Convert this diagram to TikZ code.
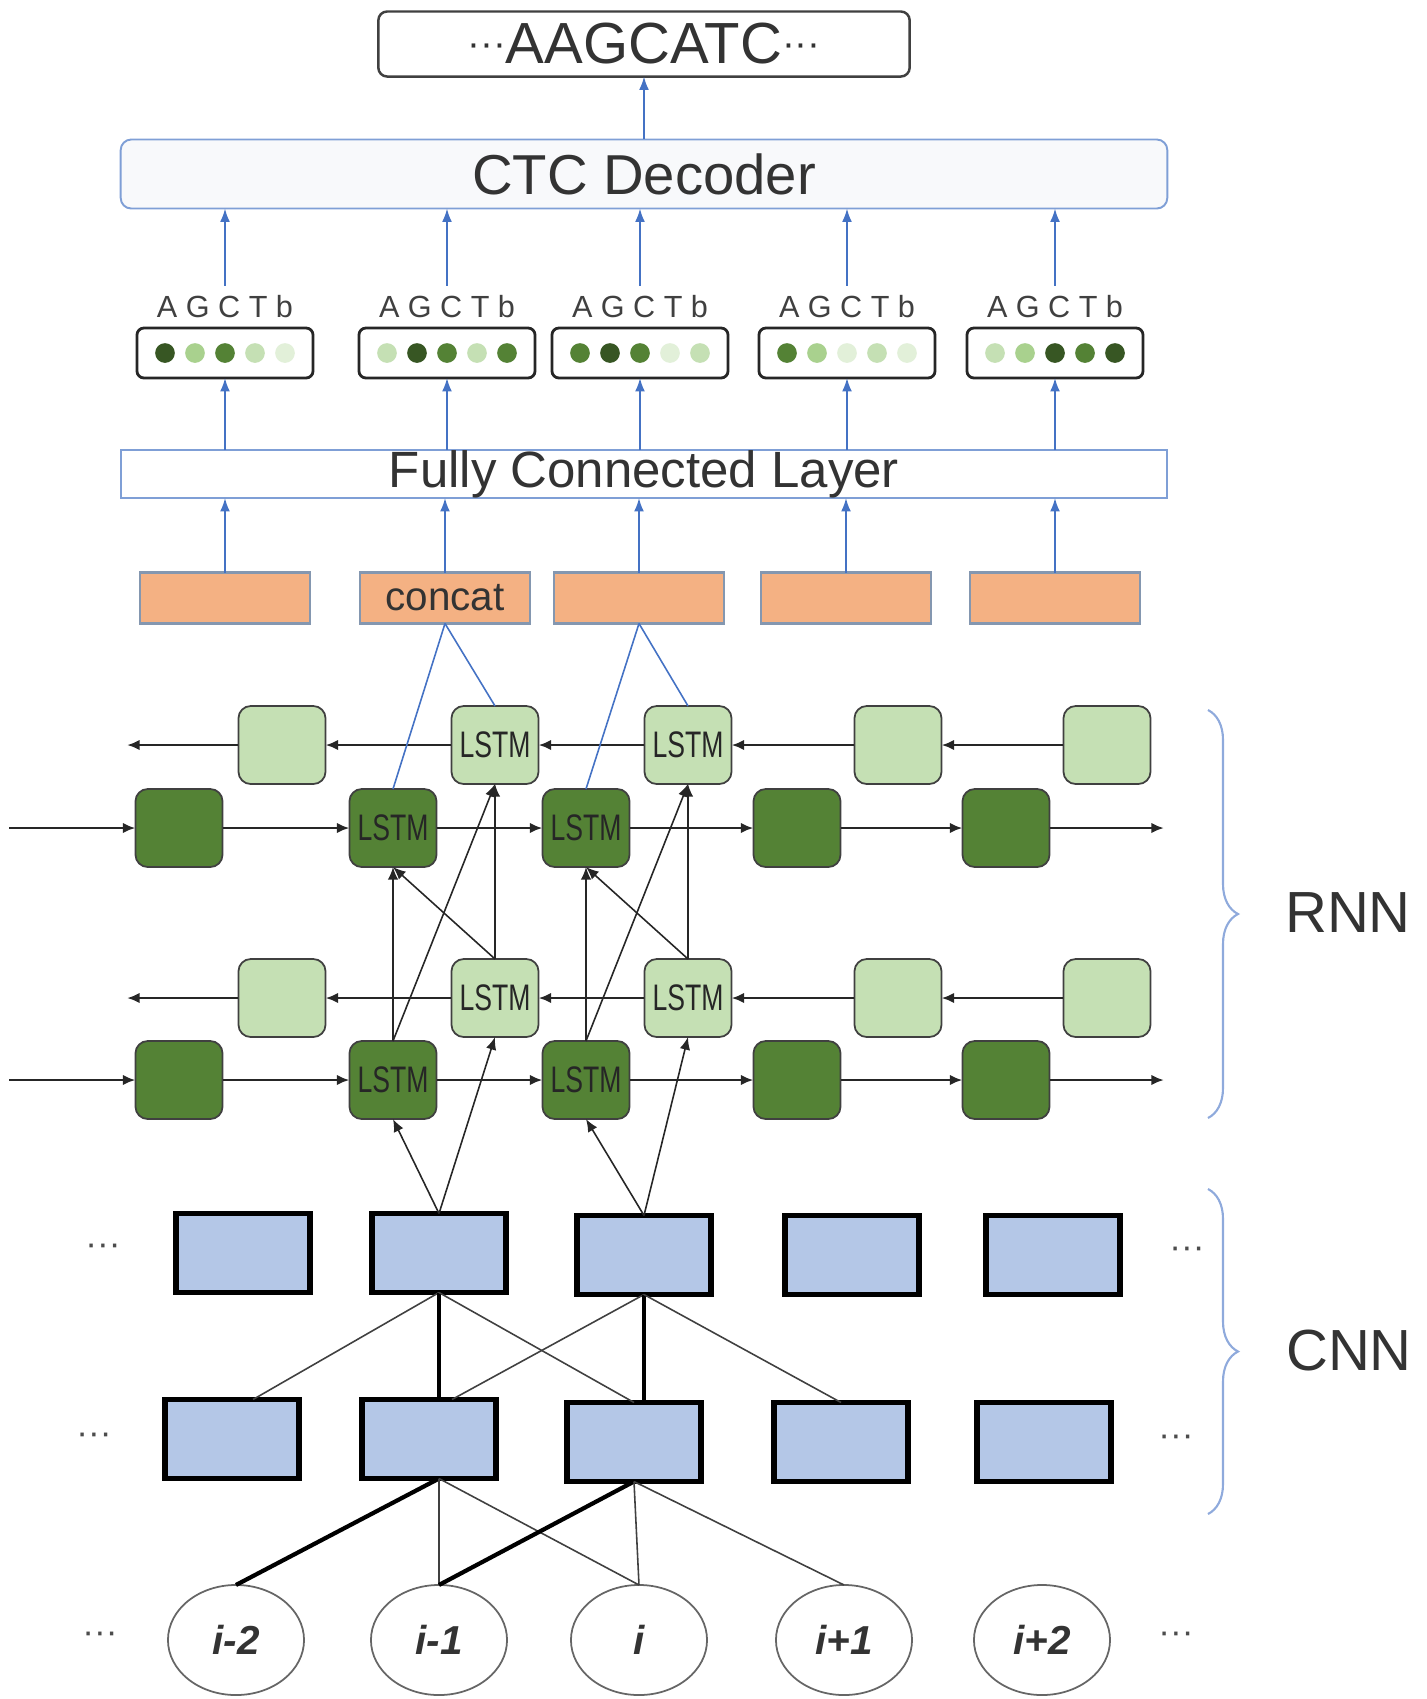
\documentclass[tikz,border=0pt]{standalone}
\usepackage{fontspec}
\setmainfont{Liberation Sans}
\usepackage{graphicx}
\usetikzlibrary{arrows.meta,shapes.geometric,decorations.pathreplacing}

\definecolor{linkblue}{HTML}{4472C4}
\definecolor{edgeblue}{HTML}{7F9FD6}
\definecolor{braceblue}{HTML}{8FAADC}
\definecolor{ctcgray}{HTML}{F8F9FB}
\definecolor{peach}{HTML}{F4B183}
\definecolor{catedge}{HTML}{8497B0}
\definecolor{darkleaf}{HTML}{548235}
\definecolor{paleleaf}{HTML}{C5E0B4}
\definecolor{cnnblue}{HTML}{B4C7E7}
\definecolor{g1}{HTML}{375623}
\definecolor{g2}{HTML}{548235}
\definecolor{g3}{HTML}{A9D18E}
\definecolor{g4}{HTML}{C5E0B4}
\definecolor{g5}{HTML}{E2F0D9}

\newcommand{\cell}{\scalebox{0.72}[1]{LSTM}}
\newcommand{\mdots}{\raisebox{2pt}{\fontsize{11}{11}\selectfont ···}}
\newcommand{\probs}[7]
{
	\node[probbox] (#1) at (#2,353) {};
	\node[agct] (l#1) at (#2,307) {A G C T b};
	\fill[#3] ({#2-60},353) circle (2.8pt);
	\fill[#4] ({#2-30},353) circle (2.8pt);
	\fill[#5] (#2,353) circle (2.8pt);
	\fill[#6] ({#2+30},353) circle (2.8pt);
	\fill[#7] ({#2+60},353) circle (2.8pt);
	\draw[bluearrow] (fc.north -| #1.south) -- (#1.south);
	\draw[bluearrow] ([yshift=0.1cm]l#1.north) -- (l#1.north |- ctc.south);
}
\newcommand{\feat}[3]
{
	\node[catbox] (#1) at (#2,598) {#3};
	\draw[bluearrow] (#1.north) -- (#1.north |- fc.south);
}
\newcommand{\fwdrow}[2]
{
	\node[fwd] (#1a) at (179,#2) {};
	\node[fwd] (#1b) at (393,#2) {\cell};
	\node[fwd] (#1c) at (586,#2) {\cell};
	\node[fwd] (#1d) at (797,#2) {};
	\node[fwd] (#1e) at (1006,#2) {};
	\coordinate (#1s) at (9,#2);
	\coordinate (#1t) at (1164,#2);
	\draw[rnnarrow] (#1s) -- (#1a);
	\draw[rnnarrow] (#1a) -- (#1b);
	\draw[rnnarrow] (#1b) -- (#1c);
	\draw[rnnarrow] (#1c) -- (#1d);
	\draw[rnnarrow] (#1d) -- (#1e);
	\draw[rnnarrow] (#1e) -- (#1t);
}
\newcommand{\bwdrow}[2]
{
	\node[bwd] (#1a) at (282,#2) {};
	\node[bwd] (#1b) at (495,#2) {\cell};
	\node[bwd] (#1c) at (688,#2) {\cell};
	\node[bwd] (#1d) at (898,#2) {};
	\node[bwd] (#1e) at (1107,#2) {};
	\coordinate (#1t) at (127,#2);
	\draw[rnnarrow] (#1e) -- (#1d);
	\draw[rnnarrow] (#1d) -- (#1c);
	\draw[rnnarrow] (#1c) -- (#1b);
	\draw[rnnarrow] (#1b) -- (#1a);
	\draw[rnnarrow] (#1a) -- (#1t);
}

\tikzset{
	every node/.style={inner sep=0pt, outer sep=0pt},
	outbox/.style={draw=black!75, line width=0.7pt, rounded corners=2.5pt, fill=white, minimum width=5.31cm, minimum height=0.65cm, font=\fontsize{16.5}{18}\selectfont, text=black!80},
	ctcbox/.style={draw=edgeblue, fill=ctcgray, line width=0.55pt, rounded corners=3pt, minimum width=10.46cm, minimum height=0.69cm, font=\fontsize{16}{18}\selectfont, text=black!80},
	fcbox/.style={draw=edgeblue, fill=white, line width=0.6pt, minimum width=10.46cm, minimum height=0.48cm, font=\fontsize{14.5}{17}\selectfont, text=black!80},
	probbox/.style={draw=black!85, line width=0.8pt, rounded corners=2pt, fill=white, minimum width=1.76cm, minimum height=0.5cm},
	agct/.style={font=\fontsize{8.7}{10}\selectfont, text=black!75},
	catbox/.style={draw=catedge, fill=peach, line width=0.6pt, minimum width=1.7cm, minimum height=0.51cm, font=\fontsize{11.5}{13}\selectfont, text=black!80},
	fwd/.style={draw=black!75, fill=darkleaf, line width=0.5pt, rounded corners=3.5pt, minimum width=0.87cm, minimum height=0.78cm, font=\fontsize{10.5}{12}\selectfont, text=black!85},
	bwd/.style={fwd, fill=paleleaf},
	cnnbox/.style={draw=black, fill=cnnblue, line width=1.5pt, minimum width=1.34cm, minimum height=0.79cm},
	inpt/.style={ellipse, draw=black!60, line width=0.5pt, minimum width=1.36cm, minimum height=1.1cm, font=\fontsize{11.5}{13}\selectfont\bfseries\itshape, text=black!80},
	more/.style={font=\fontsize{10}{10}\selectfont, text=black!70},
	tag/.style={font=\fontsize{16.5}{18}\selectfont, text=black!80},
	bluearrow/.style={draw=linkblue, line width=0.5pt, -{Latex[length=3.8pt,width=2.8pt]}},
	bluelink/.style={draw=linkblue, line width=0.45pt},
	rnnarrow/.style={draw=black!85, line width=0.8pt, -{Latex[length=3.6pt,width=3pt]}},
	uparrow/.style={draw=black!85, line width=0.45pt, -{Latex[length=3.6pt,width=3pt]}},
	convline/.style={draw=black!75, line width=0.45pt},
	convthick/.style={draw=black, line width=1.2pt},
	curly/.style={decorate, decoration={brace, amplitude=0.3cm}, draw=braceblue, line width=0.6pt}
}

\begin{document}
\begin{tikzpicture}[x=0.01cm,y=-0.01cm]
	\useasboundingbox (0,0) rectangle (1426,1699);
	\node[outbox] (out) at (644,44) {\mdots AAGCATC\mdots};
	\node[ctcbox] (ctc) at (644,174) {CTC Decoder};
	\node[fcbox] (fc) at (644,474) {Fully Connected Layer};
	\draw[bluearrow] (ctc.north) -- (out.south);
	\probs{p1}{225}{g1}{g3}{g2}{g4}{g5}
	\probs{p2}{447}{g4}{g1}{g2}{g4}{g2}
	\probs{p3}{640}{g2}{g1}{g2}{g5}{g4}
	\probs{p4}{847}{g2}{g3}{g5}{g4}{g5}
	\probs{p5}{1055}{g4}{g3}{g1}{g2}{g1}
	\feat{c1}{225}{}
	\feat{c2}{445}{concat}
	\feat{c3}{639}{}
	\feat{c4}{846}{}
	\feat{c5}{1055}{}

	\bwdrow{ub}{745}
	\fwdrow{uf}{828}
	\bwdrow{lb}{998}
	\fwdrow{lf}{1080}
	\draw[bluelink] (c2.south) -- (ufb.north);
	\draw[bluelink] (c2.south) -- (ubb.north);
	\draw[bluelink] (c3.south) -- (ufc.north);
	\draw[bluelink] (c3.south) -- (ubc.north);
	\draw[uparrow] (lfb.north) -- (ufb.south);
	\draw[uparrow] (lfb.north) -- (ubb.south);
	\draw[uparrow] (lbb.north) -- (ubb.south);
	\draw[uparrow] (lbb.north) -- (ufb.south);
	\draw[uparrow] (lfc.north) -- (ufc.south);
	\draw[uparrow] (lfc.north) -- (ubc.south);
	\draw[uparrow] (lbc.north) -- (ubc.south);
	\draw[uparrow] (lbc.north) -- (ufc.south);

	\node[cnnbox] (cu1) at (243,1253) {};
	\node[cnnbox] (cu2) at (439,1253) {};
	\node[cnnbox] (cu3) at (644,1255) {};
	\node[cnnbox] (cu4) at (852,1255) {};
	\node[cnnbox] (cu5) at (1053,1255) {};
	\node[cnnbox] (cl1) at (232,1439) {};
	\node[cnnbox] (cl2) at (429,1439) {};
	\node[cnnbox] (cl3) at (634,1442) {};
	\node[cnnbox] (cl4) at (841,1442) {};
	\node[cnnbox] (cl5) at (1044,1442) {};
	\node[inpt] (x1) at (236,1640) {i-2};
	\node[inpt] (x2) at (439,1640) {i-1};
	\node[inpt] (x3) at (639,1640) {i};
	\node[inpt] (x4) at (844,1640) {i+1};
	\node[inpt] (x5) at (1042,1640) {i+2};
	\node[more] (m1) at (103,1250) {···};
	\node[more] (m2) at (1187,1253) {···};
	\node[more] (m3) at (94,1439) {···};
	\node[more] (m4) at (1176,1441) {···};
	\node[more] (m5) at (100,1638) {···};
	\node[more] (m6) at (1176,1638) {···};

	\draw[uparrow] (cu2.north) -- (lfb.south);
	\draw[uparrow] (cu2.north) -- (lbb.south);
	\draw[uparrow] (cu3.north) -- (lfc.south);
	\draw[uparrow] (cu3.north) -- (lbc.south);
	\draw[convline] (cu2.south) -- ([xshift=0.21cm]cl1.north);
	\draw[convthick] (cu2.south) -- (cu2.south |- cl2.north);
	\draw[convline] (cu2.south) -- (cl3.north);
	\draw[convline] (cu3.south) -- ([xshift=0.23cm]cl2.north);
	\draw[convthick] (cu3.south) -- (cu3.south |- cl3.north);
	\draw[convline] (cu3.south) -- (cl4.north);
	\draw[convthick] ([xshift=0.1cm]cl2.south) -- (x1.north);
	\draw[convline] ([xshift=0.1cm]cl2.south) -- (x2.north);
	\draw[convline] ([xshift=0.1cm]cl2.south) -- (x3.north);
	\draw[convthick] (cl3.south) -- (x2.north);
	\draw[convline] (cl3.south) -- (x3.north);
	\draw[convline] (cl3.south) -- (x4.north);

	\draw[curly] (1208,710) -- (1208,1118);
	\node[tag] (rnn) at (1348,913) {RNN};
	\draw[curly] (1208,1189) -- (1208,1514);
	\node[tag] (cnn) at (1349,1351) {CNN};
\end{tikzpicture}
\end{document}
